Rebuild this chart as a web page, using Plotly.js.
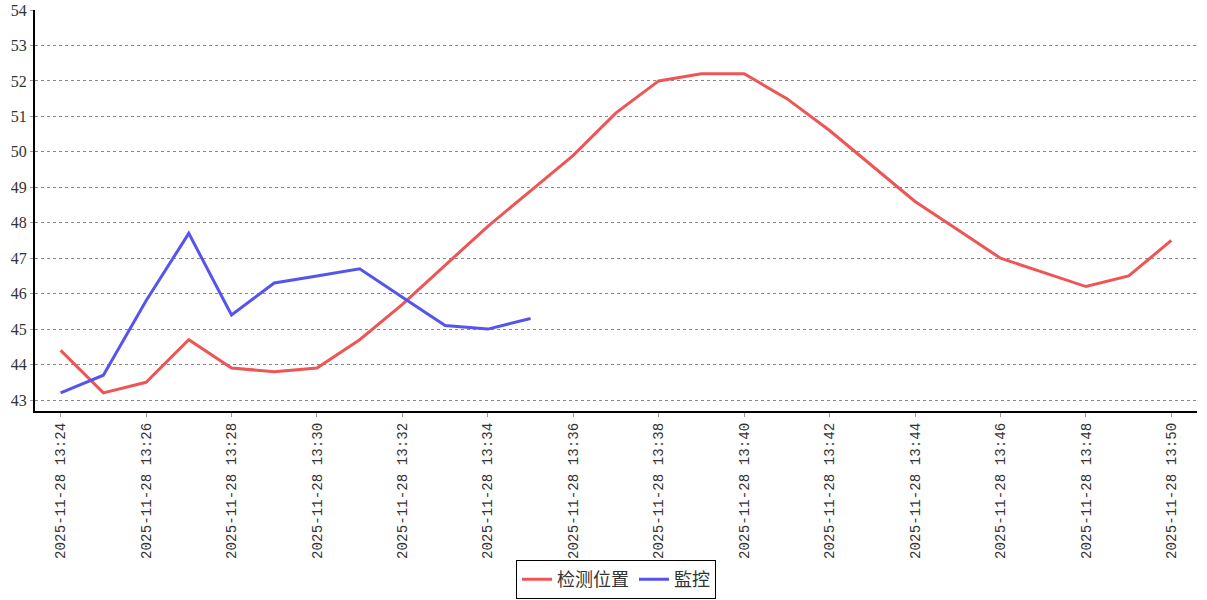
<!DOCTYPE html>
<html><head><meta charset="utf-8">
<script src="https://cdn.plot.ly/plotly-3.0.1.min.js"></script>
<style>html,body{margin:0;padding:0;background:#fff}#c{width:1207px;height:600px}</style>
</head><body><div id="c"></div>
<script>
const times = ["13:24","13:25","13:26","13:27","13:28","13:29","13:30","13:31","13:32","13:33","13:34","13:35","13:36","13:37","13:38","13:39","13:40","13:41","13:42","13:43","13:44","13:45","13:46","13:47","13:48","13:49","13:50"];
const categories = times.map(t => "2025-11-28 " + t);
const redName = "检测位置";
const redValues = [44.4,43.2,43.5,44.7,43.9,43.8,43.9,44.7,45.7,46.8,47.9,48.9,49.9,51.1,52.0,52.2,52.2,51.5,50.6,49.6,48.6,47.8,47.0,46.6,46.2,46.5,47.5];
const blueName = "監控";
const blueValues = [43.2,43.7,45.8,47.7,45.4,46.3,46.5,46.7,45.9,45.1,45.0,45.3];
const tickVals = categories.filter((c,i) => i % 2 === 0);
const tickText = tickVals.map(c => c.replace(" ", "\u00A0"));
const yTicks = [43,44,45,46,47,48,49,50,51,52,53,54];

const monoFont = {family: "Liberation Mono, DejaVu Sans Mono, monospace", size: 14.2, color: "#333"};
const yFont = {family: "Liberation Serif, DejaVu Serif, serif", size: 16, color: "#333"};
const traces = [
  {x: categories, y: redValues, name: redName, type: "scatter", mode: "lines",
   line: {color: "#ee5555", width: 3}},
  {x: categories.slice(0, blueValues.length), y: blueValues, name: blueName, type: "scatter", mode: "lines",
   line: {color: "#5555ee", width: 3}}
];
const layout = {
  width: 1207, height: 600,
  margin: {l: 35, r: 10, t: 10, b: 189, autoexpand: false},
  paper_bgcolor: "#fff", plot_bgcolor: "#fff",
  showlegend: true,
  legend: {orientation: "h", x: 0.5, xanchor: "center", y: -0.372, yanchor: "top",
    bordercolor: "#000", borderwidth: 1, bgcolor: "#fff",
    font: {family: "Noto Sans CJK SC, sans-serif", size: 18, color: "#333"},
    itemwidth: 30, tracegroupgap: 0},
  xaxis: {type: "category", range: [-0.6, 26.6], tickmode: "array", tickvals: tickVals, ticktext: tickText,
    tickangle: -90, tickfont: monoFont, showgrid: false, zeroline: false, automargin: false,
    showline: true, linecolor: "#000", linewidth: 2, ticks: "outside", ticklen: 4, tickcolor: "#999", tickwidth: 1},
  yaxis: {range: [42.69, 54], tickmode: "array", tickvals: yTicks, ticktext: yTicks.map(String), automargin: false,
    tickfont: yFont, showgrid: true, gridcolor: "#888", griddash: "dot", gridwidth: 1, zeroline: false,
    showline: true, linecolor: "#000", linewidth: 2, ticks: "outside", ticklen: 3, tickcolor: "#999"}
};
Plotly.newPlot("c", traces, layout, {displayModeBar: false, staticPlot: true});
</script></body></html>
